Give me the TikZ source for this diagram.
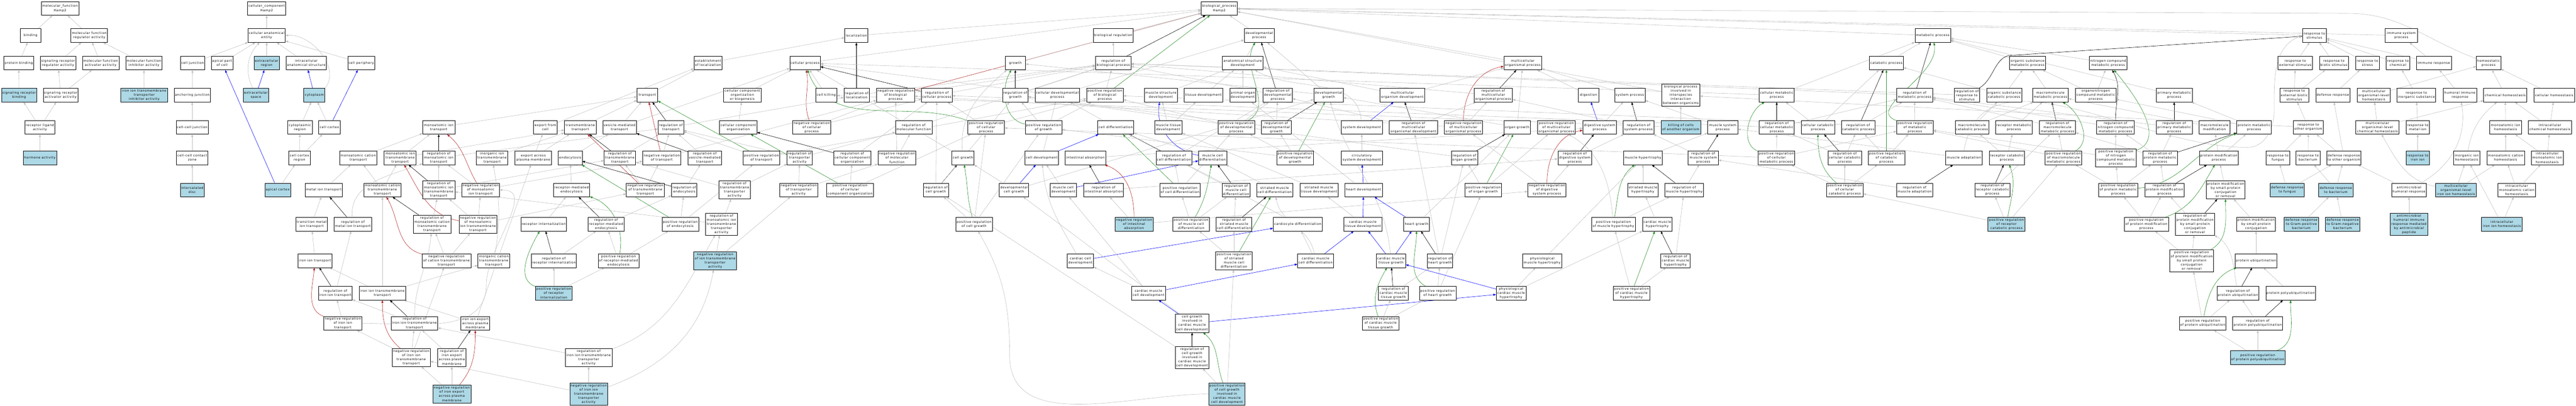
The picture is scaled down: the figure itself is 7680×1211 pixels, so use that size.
\documentclass[tikz,border=0pt]{standalone}
\usepackage{fontspec}
\usetikzlibrary{arrows.meta}
\newfontfamily\labfont[LetterSpace=10]{DejaVu Sans}
\definecolor{lblue}{HTML}{ADD8E6}
\definecolor{egray}{HTML}{C0C0C0}
\definecolor{ered}{HTML}{B22222}
\definecolor{egreen}{HTML}{228B22}
\definecolor{eblue}{HTML}{0000FF}
\pgfdeclarelayer{bgl}
\pgfdeclarelayer{edges}
\pgfsetlayers{bgl,edges,main}
\tikzset{
  bx/.style={draw=black,line width=0.9pt,fill=white,inner sep=0pt,align=center,font=\labfont\fontsize{9.4}{12.4}\selectfont},
  bxb/.style={bx,fill=lblue},
  ebase/.style={line width=0.9pt,-{Triangle[length=8pt,width=6pt]}},
  ga/.style={ebase,draw=egray},
  ka/.style={ebase,draw=black},
  ra/.style={ebase,draw=ered},
  gna/.style={ebase,draw=egreen},
  ba/.style={ebase,draw=eblue}
}
\newcommand\Nd[6]{\node[bx,minimum width=#4pt,minimum height=#5pt] (#1) at (#2,#3) {#6};}
\newcommand\Nb[6]{\node[bxb,minimum width=#4pt,minimum height=#5pt] (#1) at (#2,#3) {#6};}
\newcommand\Egr[2]{\draw[ga] (#1) -- (#2);}
\newcommand\Ebk[2]{\draw[ka] (#1) -- (#2);}
\newcommand\Erd[2]{\draw[ra] (#1) -- (#2);}
\newcommand\Egn[2]{\draw[gna] (#1) -- (#2);}
\newcommand\Ebl[2]{\draw[ba] (#1) -- (#2);}
\begin{document}
\begin{tikzpicture}[x=1pt,y=-1pt]
\begin{pgfonlayer}{bgl}
\fill[white] (0,0) rectangle (7680,1211);
\end{pgfonlayer}
\useasboundingbox (0,0) rectangle (7680,1211);
% ---------------- molecular function
\Nd{n1}{179}{25}{112}{41}{molecular\_function\\Hamp2}
\Nd{n2}{91}{106}{61}{41}{binding}
\Nd{n3}{266}{106}{109}{41}{molecular function\\regulator activity}
\Nd{n4}{56}{188}{89}{41}{protein binding}
\Nd{n5}{173}{188}{105}{41}{signaling receptor\\regulator activity}
\Nd{n6}{300}{188}{109}{41}{molecular function\\activator activity}
\Nd{n7}{429}{188}{109}{41}{molecular function\\inhibitor activity}
\Nb{n8}{57}{284}{105}{41}{signaling receptor\\binding}
\Nd{n9}{181}{284}{104}{41}{signaling receptor\\activator activity}
\Nb{n10}{430}{284}{139}{41}{iron ion transmembrane\\transporter\\inhibitor activity}
\Nd{n11}{119}{380}{89}{41}{receptor ligand\\activity}
\Nb{n12}{119}{471}{100}{41}{hormone activity}
% ---------------- cellular component
\Nd{n13}{574}{188}{73}{41}{cell junction}
\Nd{n14}{662}{188}{64}{41}{apical part\\of cell}
\Nd{n15}{573}{284}{107}{41}{anchoring junction}
\Nd{n16}{573}{380}{96}{41}{cell-cell junction}
\Nd{n17}{573}{471}{93}{41}{cell-cell contact\\zone}
\Nb{n18}{573}{567}{71}{41}{intercalated\\disc}
\Nd{n19}{795}{25}{114}{41}{cellular\_component\\Hamp2}
\Nd{n20}{795}{106}{111}{41}{cellular anatomical\\entity}
\Nb{n21}{795}{188}{75}{41}{extracellular\\region}
\Nd{n22}{913}{188}{120}{41}{intracellular\\anatomical structure}
\Nd{n23}{1077}{188}{80}{41}{cell periphery}
\Nb{n24}{763}{284}{75}{41}{extracellular\\space}
\Nb{n25}{937}{284}{63}{41}{cytoplasm}
\Nd{n26}{894}{380}{73}{41}{cytoplasmic\\region}
\Nd{n27}{982}{380}{64}{41}{cell cortex}
\Nd{n28}{893}{471}{65}{41}{cell cortex\\region}
\Nb{n29}{828}{567}{77}{41}{apical cortex}
% ---------------- transport
\Nd{n30}{1068}{471}{112}{41}{monoatomic cation\\transport}
\Nd{n31}{1193}{471}{95}{41}{monoatomic ion\\transmembrane\\transport}
\Nd{n32}{1308}{380}{96}{41}{monoatomic ion\\transport}
\Nd{n33}{965}{567}{111}{41}{metal ion transport}
\Nd{n34}{1140}{567}{111}{41}{monoatomic cation\\transmembrane\\transport}
\Nd{n35}{929}{669}{94}{41}{transition metal\\ion transport}
\Nd{n36}{1052}{669}{111}{41}{regulation of\\metal ion transport}
\Nd{n37}{1288}{669}{112}{54}{regulation of\\monoatomic cation\\transmembrane\\transport}
\Nd{n38}{1308}{567}{96}{54}{regulation of\\monoatomic ion\\transmembrane\\transport}
\Nd{n39}{1308}{471}{96}{41}{regulation of\\monoatomic ion\\transport}
\Nd{n40}{939}{778}{101}{41}{iron ion transport}
\Nd{n41}{1331}{778}{146}{41}{negative regulation\\of cation transmembrane\\transport}
\Nd{n42}{1000}{875}{100}{41}{regulation of\\iron ion transport}
\Nd{n43}{1140}{875}{139}{41}{iron ion transmembrane\\transport}
\Nd{n44}{1022}{965}{113}{41}{negative regulation\\of iron ion\\transport}
\Nd{n45}{1236}{965}{138}{41}{regulation of\\iron ion transmembrane\\transport}
\Nd{n46}{1226}{1067}{113}{54}{negative regulation\\of iron ion\\transmembrane\\transport}
\Nd{n47}{1626}{380}{71}{41}{export from\\cell}
\Nd{n48}{1730}{380}{95}{41}{transmembrane\\transport}
\Nd{n49}{1847}{380}{100}{41}{vesicle-mediated\\transport}
\Nd{n50}{1930}{284}{62}{41}{transport}
\Nd{n51}{1467}{471}{94}{41}{inorganic ion\\transmembrane\\transport}
\Nd{n52}{1590}{471}{109}{41}{export across\\plasma membrane}
\Nd{n53}{1700}{471}{71}{41}{endocytosis}
\Nd{n54}{1848}{471}{94}{41}{regulation of\\transmembrane\\transport}
\Nd{n55}{1973}{471}{114}{41}{negative regulation\\of transport}
\Nd{n56}{1433}{567}{113}{41}{negative regulation\\of monoatomic\\ion transport}
\Nd{n57}{1704}{567}{108}{41}{receptor-mediated\\endocytosis}
\Nd{n58}{1924}{567}{114}{41}{negative regulation\\of transmembrane\\transport}
\Nd{n59}{1425}{669}{113}{54}{negative regulation\\of monoatomic\\ion transmembrane\\transport}
\Nd{n60}{1621}{669}{135}{41}{receptor internalization}
\Nd{n61}{1807}{669}{107}{41}{regulation of\\receptor-mediated\\endocytosis}
\Nd{n62}{1472}{778}{94}{41}{inorganic cation\\transmembrane\\transport}
\Nd{n63}{1651}{778}{134}{41}{regulation of\\receptor internalization}
\Nd{n64}{1844}{778}{121}{41}{positive regulation\\of receptor-mediated\\endocytosis}
\Nb{n65}{1651}{875}{109}{41}{positive regulation\\of receptor\\internalization}
\Nd{n66}{1417}{965}{86}{41}{iron ion export\\across plasma\\membrane}
\Nd{n67}{1347}{1067}{84}{54}{regulation of\\iron export\\across plasma\\membrane}
\Nd{n68}{1755}{1067}{139}{54}{regulation of\\iron ion transmembrane\\transporter\\activity}
\Nb{n69}{1347}{1176}{114}{54}{negative regulation\\of iron export\\across plasma\\membrane}
\Nb{n70}{1755}{1176}{113}{66}{negative regulation\\of iron ion\\transmembrane\\transporter\\activity}
% ---------------- localization / cellular process
\Nd{n71}{2553}{106}{69}{41}{localization}
\Nd{n72}{2111}{188}{84}{41}{establishment\\of localization}
\Nd{n73}{2400}{188}{91}{41}{cellular process}
\Nd{n74}{2213}{284}{111}{41}{cellular component\\organization\\or biogenesis}
\Nd{n75}{2463}{284}{63}{41}{cell killing}
\Nd{n76}{2554}{284}{76}{41}{regulation of\\localization}
\Nd{n77}{2000}{380}{76}{41}{regulation of\\transport}
\Nd{n78}{2201}{380}{112}{41}{cellular component\\organization}
\Nd{n79}{2420}{380}{114}{41}{negative regulation\\of cellular\\process}
\Nd{n80}{2101}{471}{100}{41}{regulation of\\vesicle-mediated\\transport}
\Nd{n81}{2270}{471}{109}{41}{positive regulation\\of transport}
\Nd{n82}{2384}{471}{75}{41}{regulation of\\transporter\\activity}
\Nd{n83}{2541}{471}{112}{41}{regulation of\\cellular component\\organization}
\Nd{n85}{2040}{567}{75}{41}{regulation of\\endocytosis}
\Nd{n86}{2190}{567}{94}{54}{regulation of\\transmembrane\\transporter\\activity}
\Nd{n87}{2381}{567}{114}{41}{negative regulation\\of transporter\\activity}
\Nd{n88}{2534}{567}{139}{41}{positive regulation\\of cellular\\component organization}
\Nd{n89}{2028}{669}{109}{41}{positive regulation\\of endocytosis}
\Nd{n90}{2151}{669}{95}{66}{regulation of\\monoatomic ion\\transmembrane\\transporter\\activity}
\Nb{n91}{2132}{778}{128}{54}{negative regulation\\of ion transmembrane\\transporter\\activity}
\Nd{n92}{2670}{284}{113}{41}{negative regulation\\of biological\\process}
\Nd{n93}{2793}{284}{91}{41}{regulation of\\cellular process}
\Nd{n94}{3027}{188}{61}{41}{growth}
\Nd{n95}{3027}{284}{75}{41}{regulation of\\growth}
\Nd{n96}{3152}{284}{133}{41}{cellular developmental\\process}
\Nd{n97}{2724}{380}{109}{41}{regulation of\\molecular function}
\Nd{n98}{2940}{380}{109}{41}{positive regulation\\of cellular\\process}
\Nd{n99}{3111}{380}{109}{41}{positive regulation\\of growth}
\Nd{n100}{2674}{471}{113}{41}{negative regulation\\of molecular\\function}
\Nd{n101}{2871}{471}{66}{41}{cell growth}
\Nd{n102}{3106}{471}{100}{41}{cell development}
\Nd{n103}{3236}{471}{120}{41}{intestinal absorption}
\Nd{n104}{2790}{567}{75}{41}{regulation of\\cell growth}
\Nd{n105}{3023}{567}{88}{41}{developmental\\cell growth}
\Nd{n106}{3170}{567}{77}{41}{muscle cell\\development}
\Nd{n107}{2904}{669}{110}{41}{positive regulation\\of cell growth}
\Nd{n108}{3221}{778}{78}{41}{cardiac cell\\development}
% ---------------- biological process / development
\Nd{n109}{3635}{25}{107}{41}{biological\_process\\Hamp2}
\Nd{n110}{3319}{106}{118}{41}{biological regulation}
\Nd{n111}{3754}{106}{89}{41}{developmental\\process}
\Nd{n112}{3319}{188}{105}{41}{regulation of\\biological process}
\Nd{n113}{3705}{188}{121}{41}{anatomical structure\\development}
\Nd{n115}{3294}{284}{109}{41}{positive regulation\\of biological\\process}
\Nd{n116}{3461}{284}{98}{41}{muscle structure\\development}
\Nd{n117}{3588}{284}{115}{41}{tissue development}
\Nd{n118}{3705}{284}{77}{41}{animal organ\\development}
\Nd{n119}{3809}{284}{88}{41}{regulation of\\developmental\\process}
\Nd{n120}{3326}{380}{108}{41}{cell differentiation}
\Nd{n121}{3483}{380}{82}{41}{muscle tissue\\development}
\Nd{n122}{3686}{380}{109}{41}{positive regulation\\of developmental\\process}
\Nd{n123}{3805}{380}{89}{41}{regulation of\\developmental\\growth}
\Nd{n124}{3500}{471}{107}{41}{regulation of\\cell differentiation}
\Nd{n125}{3615}{471}{84}{41}{muscle cell\\differentiation}
\Nd{n126}{3861}{471}{110}{41}{positive regulation\\of developmental\\growth}
\Nd{n127}{3290}{567}{119}{41}{regulation of\\intestinal absorption}
\Nd{n128}{3518}{567}{121}{41}{positive regulation\\of cell differentiation}
\Nd{n129}{3685}{567}{83}{41}{regulation of\\muscle cell\\differentiation}
\Nd{n130}{3800}{567}{107}{41}{striated muscle\\cell differentiation}
\Nb{n132}{3381}{669}{114}{41}{negative regulation\\of intestinal\\absorption}
\Nd{n133}{3551}{669}{109}{41}{positive regulation\\of muscle cell\\differentiation}
\Nd{n134}{3679}{669}{106}{41}{regulation of\\striated muscle\\cell differentiation}
\Nd{n135}{3869}{669}{146}{41}{cardiocyte differentiation}
\Nd{n136}{3679}{778}{109}{54}{positive regulation\\of striated\\muscle cell\\differentiation}
\Nd{n137}{3424}{875}{101}{41}{cardiac muscle\\cell development}
\Nd{n138}{3554}{965}{100}{54}{cell growth\\involved in\\cardiac muscle\\cell development}
\Nd{n139}{3554}{1067}{100}{66}{regulation of\\cell growth\\involved in\\cardiac muscle\\cell development}
\Nb{n140}{3658}{1176}{108}{66}{positive regulation\\of cell growth\\involved in\\cardiac muscle\\cell development}
\Nd{n141}{3961}{284}{88}{41}{developmental\\growth}
\Nd{n142}{4181}{284}{134}{41}{multicellular\\organism development}
\Nd{n143}{4452}{284}{114}{41}{regulation of\\multicellular\\organismal process}
\Nd{n144}{4060}{380}{122}{41}{system development}
\Nd{n145}{4214}{380}{144}{41}{regulation of\\multicellular\\organismal development}
\Nd{n146}{4363}{380}{113}{41}{negative regulation\\of multicellular\\organismal process}
\Nd{n147}{4060}{471}{122}{41}{circulatory\\system development}
\Nd{n148}{4366}{471}{78}{41}{regulation of\\organ growth}
\Nd{n149}{4523}{380}{78}{41}{organ growth}
\Nd{n150}{3932}{567}{114}{41}{striated muscle\\tissue development}
\Nd{n151}{4065}{567}{112}{41}{heart development}
\Nd{n152}{4422}{567}{109}{41}{positive regulation\\of organ growth}
\Nd{n153}{4063}{669}{114}{41}{cardiac muscle\\tissue development}
\Nd{n154}{4223}{669}{76}{41}{heart growth}
\Nd{n155}{3922}{778}{107}{41}{cardiac muscle\\cell differentiation}
\Nd{n156}{4147}{778}{88}{41}{cardiac muscle\\tissue growth}
\Nd{n157}{4293}{778}{75}{41}{regulation of\\heart growth}
\Nd{n158}{4154}{875}{89}{41}{regulation of\\cardiac muscle\\tissue growth}
\Nd{n159}{4286}{875}{109}{41}{positive regulation\\of heart growth}
\Nd{n160}{4505}{875}{89}{41}{physiological\\cardiac muscle\\hypertrophy}
\Nd{n161}{4116}{965}{108}{41}{positive regulation\\of cardiac muscle\\tissue growth}
% ---------------- organismal / system
\Nd{n162}{4540}{188}{113}{41}{multicellular\\organismal process}
\Nd{n163}{4736}{284}{61}{41}{digestion}
\Nd{n164}{4859}{284}{91}{41}{system process}
\Nd{n165}{5011}{284}{114}{66}{biological process\\involved in\\interspecies\\interaction\\between organisms}
\Nd{n166}{4640}{380}{113}{41}{positive regulation\\of multicellular\\organismal process}
\Nd{n167}{4769}{380}{100}{41}{digestive system\\process}
\Nd{n168}{4885}{380}{92}{41}{regulation of\\system process}
\Nb{n169}{5011}{380}{118}{41}{killing of cells\\of another organism}
\Nd{n170}{5136}{380}{90}{41}{muscle system\\process}
\Nd{n171}{4695}{471}{101}{41}{regulation of\\digestive system\\process}
\Nd{n172}{4898}{471}{116}{41}{muscle hypertrophy}
\Nd{n173}{5078}{471}{90}{41}{regulation of\\muscle system\\process}
\Nd{n174}{4612}{567}{114}{41}{negative regulation\\of digestive\\system process}
\Nd{n175}{4898}{567}{91}{41}{striated muscle\\hypertrophy}
\Nd{n176}{5021}{567}{116}{41}{regulation of\\muscle hypertrophy}
\Nd{n177}{4810}{669}{131}{41}{positive regulation\\of muscle hypertrophy}
\Nd{n178}{4941}{669}{88}{41}{cardiac muscle\\hypertrophy}
\Nd{n179}{4598}{778}{117}{41}{physiological\\muscle hypertrophy}
\Nd{n180}{4995}{778}{88}{41}{regulation of\\cardiac muscle\\hypertrophy}
\Nd{n181}{4864}{875}{109}{41}{positive regulation\\of cardiac muscle\\hypertrophy}
% ---------------- metabolism
\Nd{n182}{5762}{106}{106}{41}{metabolic process}
\Nd{n183}{5624}{188}{101}{41}{catabolic process}
\Nd{n184}{5297}{284}{104}{41}{cellular metabolic\\process}
\Nd{n185}{5708}{284}{107}{41}{regulation of\\metabolic process}
\Nd{n186}{5297}{380}{104}{41}{regulation of\\cellular metabolic\\process}
\Nd{n187}{5420}{380}{100}{41}{cellular catabolic\\process}
\Nd{n188}{5540}{380}{101}{41}{regulation of\\catabolic process}
\Nd{n189}{5709}{380}{109}{41}{positive regulation\\of metabolic\\process}
\Nd{n190}{5296}{471}{109}{41}{positive regulation\\of cellular\\metabolic process}
\Nd{n191}{5500}{471}{100}{41}{regulation of\\cellular catabolic\\process}
\Nd{n192}{5624}{471}{109}{41}{positive regulation\\of catabolic\\process}
\Nd{n193}{5500}{567}{110}{41}{positive regulation\\of cellular\\catabolic process}
\Nd{n194}{5708}{567}{107}{41}{regulation of\\muscle adaptation}
\Nd{n195}{6045}{188}{107}{41}{organic substance\\metabolic process}
\Nd{n196}{6285}{188}{112}{41}{nitrogen compound\\metabolic process}
\Nd{n197}{5864}{284}{76}{41}{regulation of\\response to\\stimulus}
\Nd{n198}{5975}{284}{105}{41}{organic substance\\catabolic process}
\Nd{n199}{6113}{284}{107}{41}{macromolecule\\metabolic process}
\Nd{n200}{6248}{284}{121}{41}{organonitrogen\\compound metabolic\\process}
\Nd{n201}{5879}{380}{100}{41}{macromolecule\\catabolic process}
\Nd{n202}{6004}{380}{109}{41}{receptor metabolic\\process}
\Nd{n203}{6134}{380}{107}{41}{regulation of\\macromolecule\\metabolic process}
\Nd{n204}{6307}{380}{112}{41}{regulation of\\nitrogen compound\\metabolic process}
\Nd{n205}{5855}{471}{108}{41}{muscle adaptation}
\Nd{n206}{5983}{471}{105}{41}{receptor catabolic\\process}
\Nd{n207}{6152}{471}{109}{41}{positive regulation\\of macromolecule\\metabolic process}
\Nd{n208}{6308}{471}{121}{54}{positive regulation\\of nitrogen\\compound metabolic\\process}
\Nd{n209}{6440}{471}{104}{41}{regulation of\\protein metabolic\\process}
\Nd{n210}{5940}{567}{104}{41}{regulation of\\receptor catabolic\\process}
\Nd{n211}{6315}{567}{118}{41}{positive regulation\\of protein metabolic\\process}
\Nd{n212}{6453}{567}{117}{41}{regulation of\\protein modification\\process}
\Nb{n213}{5982}{669}{110}{41}{positive regulation\\of receptor\\catabolic process}
\Nd{n214}{6399}{669}{132}{41}{positive regulation\\of protein modification\\process}
% ---------------- response / protein
\Nd{n215}{6900}{106}{71}{41}{response to\\stimulus}
\Nd{n216}{6843}{188}{103}{41}{response to\\external stimulus}
\Nd{n217}{6958}{188}{86}{41}{response to\\biotic stimulus}
\Nd{n218}{7058}{188}{70}{41}{response to\\stress}
\Nd{n219}{6482}{284}{107}{41}{primary metabolic\\process}
\Nd{n220}{6840}{284}{85}{41}{response to\\external biotic\\stimulus}
\Nd{n221}{6955}{284}{102}{41}{defense response}
\Nd{n222}{7077}{284}{99}{41}{multicellular\\organismal-level\\homeostasis}
\Nd{n223}{6482}{380}{107}{41}{regulation of\\primary metabolic\\process}
\Nd{n224}{6602}{380}{91}{41}{macromolecule\\modification}
\Nd{n225}{6720}{380}{103}{41}{protein metabolic\\process}
\Nd{n226}{6882}{380}{89}{41}{response to\\other organism}
\Nd{n227}{7088}{380}{129}{41}{multicellular\\organismal-level\\chemical homeostasis}
\Nd{n228}{6615}{471}{116}{41}{protein modification\\process}
\Nd{n229}{6791}{471}{70}{41}{response to\\fungus}
\Nd{n230}{6881}{471}{71}{41}{response to\\bacterium}
\Nd{n231}{6988}{471}{102}{41}{defense response\\to other organism}
\Nd{n233}{6635}{567}{116}{54}{protein modification\\by small protein\\conjugation\\or removal}
\Nb{n234}{6819}{567}{102}{41}{defense response\\to fungus}
\Nb{n235}{6964}{567}{102}{41}{defense response\\to bacterium}
\Nd{n237}{6544}{669}{117}{66}{regulation of\\protein modification\\by small protein\\conjugation\\or removal}
\Nd{n238}{6726}{669}{116}{41}{protein modification\\by small protein\\conjugation}
\Nb{n239}{6861}{669}{103}{41}{defense response\\to Gram-positive\\bacterium}
\Nb{n240}{6984}{669}{102}{41}{defense response\\to Gram-negative\\bacterium}
\Nd{n241}{6534}{778}{131}{66}{positive regulation\\of protein modification\\by small protein\\conjugation\\or removal}
\Nd{n242}{6726}{778}{124}{41}{protein ubiquitination}
\Nd{n243}{6672}{875}{125}{41}{regulation of\\protein ubiquitination}
\Nd{n244}{6829}{875}{148}{41}{protein polyubiquitination}
\Nd{n245}{6567}{965}{139}{41}{positive regulation\\of protein ubiquitination}
\Nd{n246}{6731}{965}{149}{41}{regulation of\\protein polyubiquitination}
\Nb{n247}{6731}{1067}{162}{41}{positive regulation\\of protein polyubiquitination}
% ---------------- immune / homeostasis
\Nd{n248}{7159}{106}{96}{41}{immune system\\process}
\Nd{n249}{7149}{188}{70}{41}{response to\\chemical}
\Nd{n250}{7256}{188}{105}{41}{immune response}
\Nd{n251}{7419}{188}{73}{41}{homeostatic\\process}
\Nd{n252}{7204}{284}{115}{41}{response to\\inorganic substance}
\Nd{n253}{7334}{284}{100}{41}{humoral immune\\response}
\Nd{n254}{7469}{284}{129}{41}{chemical homeostasis}
\Nd{n255}{7615}{284}{120}{41}{cellular homeostasis}
\Nd{n256}{7208}{380}{70}{41}{response to\\metal ion}
\Nd{n257}{7470}{380}{96}{41}{monoatomic ion\\homeostasis}
\Nd{n258}{7602}{380}{129}{41}{intracellular\\chemical homeostasis}
\Nb{n259}{7208}{471}{70}{41}{response to\\iron ion}
\Nd{n260}{7354}{471}{78}{41}{inorganic ion\\homeostasis}
\Nd{n261}{7470}{471}{112}{41}{monoatomic cation\\homeostasis}
\Nd{n262}{7594}{471}{95}{41}{intracellular\\monoatomic ion\\homeostasis}
\Nd{n263}{7182}{567}{104}{41}{antimicrobial\\humoral response}
\Nb{n264}{7322}{567}{121}{41}{multicellular\\organismal-level\\iron ion homeostasis}
\Nd{n265}{7503}{567}{112}{41}{intracellular\\monoatomic cation\\homeostasis}
\Nb{n266}{7182}{669}{112}{66}{antimicrobial\\humoral immune\\response mediated\\by antimicrobial\\peptide}
\Nb{n267}{7459}{669}{121}{41}{intracellular\\iron ion homeostasis}
% ================= edges
\begin{pgfonlayer}{edges}
% MF
\Egr{n2}{n1}\Egr{n3}{n1}\Egr{n4}{n2}\Egr{n8}{n4}\Egr{n5}{n3}\Egr{n6}{n3}\Egr{n7}{n3}
\Egr{n9}{n5}\Egr{n9}{n6}\Egr{n10}{n7}\Egr{n11}{n8}\Egr{n11}{n9}\Egr{n12}{n11}
% CC
\Egr{n20}{n19}\Egr{n13}{n20}\Egr{n14}{n20}\Egr{n21}{n20}
\draw[ga] (n24) to[bend left=35] (n20);
\Ebl{n24}{n21}\Egr{n22}{n20}\Ebl{n25}{n22}
\draw[ga] (n25.north east) to[out=50,in=5] (n20.east);
\Egr{n23}{n20}\Egr{n26}{n25}\Egr{n27}{n25}\Ebl{n27}{n23}\Egr{n28}{n26}\Egr{n28}{n27}
\Egr{n29}{n28}\Ebl{n29}{n14}\Egr{n15}{n13}\Egr{n16}{n15}\Egr{n17}{n16}\Egr{n18}{n17}
% transport
\Egr{n30}{n32}\Egr{n32}{n50}\Egr{n31}{n32}\Egr{n31}{n48}\Egr{n33}{n30}\Egr{n34}{n30}\Egr{n34}{n31}
\Egr{n35}{n33}\Ebk{n36}{n33}
\draw[ga] (n36) to[out=95,in=-160] (n39);
\Egr{n40}{n35}\Ebk{n42}{n40}\Egr{n42}{n36}
\draw[ra] (n44) to[out=160,in=-95] (n40);
\Egr{n44}{n42}
\draw[ga] (n44.east) to[out=0,in=-90] (1450,850) to[out=90,in=0] (n56.east);
\Egr{n43}{n34}\Egr{n43}{n40}\Egr{n43}{n62}\Ebk{n45}{n43}\Egr{n45}{n42}
\draw[ga] (n45) to[out=90,in=-95] (n37);
\draw[ra] (n46) to[out=140,in=-90] (n43);
\Egr{n46}{n45}\Egr{n46}{n44}\Egr{n46}{n41}
\draw[ra] (n41) to[out=165,in=-60] (n34);
\Egr{n41}{n37}\Egr{n41}{n59}\Ebk{n37}{n34}\Egr{n37}{n38}\Ebk{n38}{n31}\Egr{n38}{n39}\Egr{n38}{n54}
\Ebk{n39}{n32}\Egr{n39}{n77}
\draw[ra] (n56) to[out=120,in=-40] (n32);
\Egr{n56}{n39}\Egr{n56}{n55}
\draw[ra] (n59) to[out=170,in=-60] (n31);
\Egr{n59}{n38}\Egr{n59}{n56}\Egr{n59}{n58}
\Egr{n47}{n72}\Egr{n48}{n50}\Egr{n49}{n50}\Egr{n49}{n73}\Egr{n51}{n48}\Egr{n52}{n47}\Egr{n52}{n48}
\Egr{n53}{n49}\Ebk{n54}{n48}\Egr{n54}{n77}\Erd{n55}{n50}\Egr{n55}{n77}\Egr{n55}{n92}\Egr{n57}{n53}
\Erd{n58}{n48}\Egr{n58}{n54}\Egr{n58}{n55}\Egr{n60}{n57}\Ebk{n61}{n57}\Egr{n61}{n85}
\draw[ga] (n62) to[out=80,in=-80] (n51);
\Ebk{n63}{n60}\Egr{n63}{n61}
\draw[gna] (n64) to[out=80,in=-20] (n57);
\Egr{n64}{n61}\Egr{n64}{n89}
\draw[gna] (n65) to[out=160,in=-120] (n60);
\Egr{n65}{n63}\Egr{n65}{n64}\Egr{n66}{n43}\Egr{n66}{n52}\Ebk{n67}{n66}\Egr{n67}{n45}
\draw[ra] (n69) to[out=50,in=-90] (n66);
\Egr{n69}{n67}\Egr{n69}{n46}\Egr{n68}{n45}
\draw[ga] (n68) to[out=20,in=-120] (n90);
\Egr{n70}{n68}
\draw[ga] (n70) to[out=20,in=-100] (n91);
\Egr{n70}{n46}
% localization / cellular process
\Egr{n72}{n71}\Egr{n50}{n72}\Egr{n71}{n109}\Egr{n73}{n109}\Egr{n74}{n73}\Egr{n75}{n73}\Egr{n78}{n74}
\draw[ka,line width=1.6pt] (n76) -- (n71);
\Egr{n76}{n112}\Ebk{n77}{n50}\Egr{n77}{n76}\Egn{n81}{n50}\Egr{n81}{n77}\Egr{n81}{n115}
\Ebk{n80}{n49}\Egr{n80}{n77}\Ebk{n85}{n53}\Egr{n85}{n80}\Egn{n89}{n53}\Egr{n89}{n85}\Egr{n89}{n81}
\Egr{n82}{n97}\Egr{n82}{n77}\Egr{n86}{n82}\Egr{n86}{n54}\Egr{n90}{n86}\Egr{n90}{n38}
\Egr{n87}{n82}\Egr{n87}{n100}\Egr{n91}{n90}\Egr{n91}{n87}
\draw[ra] (n79) to[out=110,in=-80] (n73);
\Egr{n79}{n93}\Egr{n79}{n92}\Ebk{n83}{n78}\Egr{n83}{n93}\Egn{n88}{n78}\Egr{n88}{n83}\Egr{n88}{n98}
\Ebk{n93}{n73}\Egr{n93}{n112}\Erd{n92}{n109}\Egr{n92}{n112}
\draw[gna] (n98) to[out=160,in=-70] (n73);
\Egr{n98}{n93}\Egr{n98}{n115}\Egn{n115}{n109}\Egr{n115}{n112}\Ebk{n112}{n109}\Egr{n112}{n110}
\Egr{n110}{n109}\Egr{n97}{n112}\Egr{n100}{n97}\Egr{n100}{n92}
% growth
\Egr{n94}{n109}\draw[ka,line width=1.6pt] (n95) -- (n94);
\Egr{n95}{n112}
\draw[gna] (n99) to[out=170,in=-120] (n94);
\Egr{n99}{n95}\Egr{n99}{n115}
\draw[ga] (n101) to[out=95,in=-140] (n94);
\Egr{n101}{n73}
\Ebk{n104}{n101}\Egr{n104}{n95}\Egr{n104}{n93}
\draw[gna] (n107) to[out=105,in=-80] (n101);
\Egr{n107}{n104}\Egr{n107}{n99}\Egr{n107}{n98}
\Egr{n105}{n101}\Ebl{n105}{n102}\Egr{n105}{n141}\Egr{n102}{n96}\Ebl{n102}{n120}\Egr{n96}{n111}\Egr{n96}{n73}
\Egr{n106}{n102}\Ebl{n106}{n125}
\draw[ga] (n108) to[out=120,in=-85] (n102);
\Ebl{n108}{n135}
\Egr{n137}{n108}\Egr{n137}{n106}\Ebl{n137}{n155}\Ebl{n138}{n137}\Egr{n138}{n105}\Ebl{n138}{n160}
\draw[ka,line width=1.6pt] (n139) -- (n138);
\Egr{n139}{n104}
\draw[gna] (n140) to[out=110,in=-40] (n138);
\Egr{n140}{n139}\Egr{n140}{n136}
\draw[ga] (n140.west) to[out=180,in=-90] (3010,1060) to[out=90,in=-60] (n107);
% development
\Egr{n111}{n109}\Egr{n113}{n111}\Egr{n116}{n113}\Egr{n117}{n113}\Egr{n118}{n113}
\Ebk{n119}{n111}\Egr{n119}{n112}\Egr{n120}{n96}\Egr{n121}{n117}\Egr{n121}{n116}
\draw[gna] (n122) to[out=30,in=-120] (n111);
\Egr{n122}{n119}\Egr{n122}{n115}\Ebk{n123}{n141}\Egr{n123}{n119}\Egr{n123}{n95}
\Ebk{n124}{n120}\Egr{n124}{n119}\Egr{n125}{n120}
\draw[ba] (n125) to[out=170,in=-100] (n116);
\Egn{n126}{n141}\Egr{n126}{n123}\Egr{n126}{n122}\Egr{n126}{n99}\Ebk{n127}{n103}\Egr{n127}{n171}
\Egn{n128}{n120}\Egr{n128}{n124}\Egr{n128}{n122}\Ebk{n129}{n125}\Egr{n129}{n124}\Egr{n130}{n125}
\draw[ra] (n132) to[out=90,in=-20] (n103);
\Egr{n132}{n127}\Egr{n132}{n174}
\draw[gna] (n133) to[out=60,in=-100] (n125);
\Egr{n133}{n129}\Egr{n133}{n128}\Ebk{n134}{n130}\Egr{n134}{n129}\Egr{n135}{n120}
\Egn{n136}{n130}\Egr{n136}{n134}\Egr{n136}{n133}\Egr{n103}{n167}
% organism
\Egr{n141}{n94}\Egr{n141}{n111}\Egr{n142}{n113}\Egr{n142}{n162}\Ebl{n144}{n142}
\draw[ga] (n144) to[out=95,in=-30] (n113);
\Egr{n147}{n144}\Ebl{n151}{n147}\Egr{n151}{n118}\Egr{n150}{n121}\Ebl{n153}{n151}\Egr{n153}{n150}
\Ebl{n154}{n151}\Egr{n154}{n149}\Egr{n155}{n135}\Ebl{n155}{n153}
\draw[ga] (n155) to[out=100,in=-80] (n130);
\Ebl{n156}{n153}\Ebl{n156}{n154}
\draw[ga] (n156) to[out=95,in=-75] (n141);
\Ebk{n157}{n154}\Egr{n157}{n148}\Egr{n157}{n145}\Ebk{n158}{n156}\Egr{n158}{n157}
\draw[gna] (n159) to[out=150,in=-90] (n154);
\Egr{n159}{n157}\Egr{n159}{n152}\Ebl{n160}{n156}\Egr{n160}{n179}\Egr{n160}{n178}
\draw[gna] (n161) to[out=110,in=-120] (n156);
\Egr{n161}{n158}\Egr{n161}{n159}\Ebk{n145}{n142}\Egr{n145}{n143}\Egr{n145}{n119}
\draw[ra] (n146) to[out=90,in=190] (n162);
\Egr{n146}{n143}\Egr{n146}{n92}\Ebk{n143}{n162}\Egr{n143}{n112}\Ebk{n148}{n149}\Egr{n148}{n95}
\Egn{n152}{n149}\Egr{n152}{n148}\Egr{n152}{n166}\Egr{n149}{n141}\Egr{n149}{n162}
\Egr{n162}{n109}\Egr{n163}{n162}\Egr{n164}{n162}\Egr{n165}{n109}\Ebl{n167}{n163}\Egr{n167}{n164}
\Ebk{n168}{n164}\Egr{n168}{n143}\Egr{n169}{n165}\Egr{n169}{n75}\Egr{n170}{n164}\Ebk{n171}{n167}
\Egr{n171}{n168}\Egr{n172}{n170}\Ebk{n173}{n170}\Egr{n173}{n168}
\draw[ra] (n174) to[out=90,in=190] (n167);
\Egr{n174}{n171}\Egr{n174}{n146}\Egr{n175}{n172}\Ebk{n176}{n172}\Egr{n176}{n173}
\draw[gna] (n177) to[out=80,in=-140] (n172);
\Egr{n177}{n176}
\draw[ga] (n177) to[out=95,in=-30] (n166);
\Egr{n178}{n175}\Egr{n179}{n172}\Ebk{n180}{n178}\Egr{n180}{n176}\Egn{n181}{n178}\Egr{n181}{n180}\Egr{n181}{n177}
% metabolism
\Egr{n182}{n109}\Egr{n183}{n182}\Egr{n184}{n182}\Egr{n184}{n73}\Ebk{n185}{n182}\Egr{n185}{n112}
\Ebk{n186}{n184}\Egr{n186}{n185}\Egr{n186}{n93}\Egr{n187}{n184}\Egr{n187}{n183}\Ebk{n188}{n183}\Egr{n188}{n185}
\draw[gna] (n189) to[out=160,in=-80] (n182);
\Egr{n189}{n185}\Egr{n189}{n115}
\draw[gna] (n190) to[out=160,in=-150] (n184);
\Egr{n190}{n186}\Egr{n190}{n189}\Egr{n190}{n98}
\Ebk{n191}{n187}\Egr{n191}{n188}\Egr{n191}{n186}\Egn{n192}{n183}\Egr{n192}{n188}\Egr{n192}{n189}
\draw[gna] (n193) to[out=140,in=-90] (n187);
\Egr{n193}{n191}\Egr{n193}{n192}\Egr{n193}{n190}\Ebk{n194}{n205}\Egr{n194}{n173}
\Egr{n195}{n182}\Egr{n196}{n182}
\draw[ka] (n197) to[out=30,in=180] (6000,165) -- (n215);
\Egr{n197}{n112}\Egr{n198}{n195}\Egr{n198}{n183}\Egr{n199}{n195}\Egr{n200}{n196}\Egr{n200}{n195}
\Egr{n201}{n198}\Egr{n201}{n199}\Egr{n202}{n199}\Ebk{n203}{n199}\Egr{n203}{n185}
\draw[ka] (n204) to[out=90,in=-60] (n196);
\Egr{n204}{n185}\Egr{n205}{n170}
\draw[ga] (n205.north) to[out=80,in=180] (6700,440) to[out=0,in=-90] (6780,330) to[out=90,in=200] (n215.west);
\Egr{n206}{n202}\Egr{n206}{n201}
\draw[gna] (n207) to[out=30,in=-30] (n199);
\Egr{n207}{n203}\Egr{n207}{n189}
\draw[gna] (n208) to[out=20,in=-50] (n196);
\Egr{n208}{n204}\Egr{n208}{n189}
\Ebk{n209}{n225}\Egr{n209}{n203}\Egr{n209}{n223}\Egr{n209}{n204}\Ebk{n210}{n206}\Egr{n210}{n203}
\draw[gna] (n211) to[out=5,in=-160] (n225);
\Egr{n211}{n209}\Egr{n211}{n207}\Egr{n211}{n208}\Ebk{n212}{n228}\Egr{n212}{n209}
\draw[gna] (n213) to[out=80,in=-70] (n206);
\Egr{n213}{n210}\Egr{n213}{n207}\Egr{n213}{n193}
\draw[gna] (n214) to[out=20,in=-120] (n228);
\Egr{n214}{n212}\Egr{n214}{n211}
% response / protein
\Egr{n215}{n109}\Egr{n216}{n215}\Egr{n217}{n215}\Egr{n218}{n215}\Egr{n219}{n182}\Egr{n220}{n216}\Egr{n220}{n217}
\Egr{n221}{n218}\Egr{n222}{n251}\Ebk{n223}{n219}\Egr{n223}{n185}\Egr{n224}{n199}\Egr{n225}{n219}\Egr{n225}{n200}
\Egr{n226}{n220}\Egr{n226}{n165}\Egr{n227}{n222}\Egr{n227}{n254}\Egr{n228}{n224}\Egr{n228}{n225}
\Egr{n229}{n226}\Egr{n230}{n226}\Egr{n231}{n226}\Egr{n231}{n221}\Egr{n233}{n228}\Egr{n234}{n229}\Egr{n234}{n231}
\Egr{n235}{n230}\Egr{n235}{n231}\Ebk{n237}{n233}\Egr{n237}{n212}\Egr{n238}{n233}\Egr{n239}{n235}\Egr{n240}{n235}
\draw[gna] (n241) to[out=30,in=-90] (n233);
\Egr{n241}{n237}\Egr{n241}{n214}\Egr{n242}{n238}\Ebk{n243}{n242}
\draw[ga] (n243) to[out=100,in=-30] (n237);
\Egr{n244}{n242}
\draw[gna] (n245) to[out=80,in=-160] (n242);
\Egr{n245}{n243}\Egr{n245}{n241}\Ebk{n246}{n244}\Egr{n246}{n243}
\draw[gna] (n247) to[out=20,in=-90] (n244);
\Egr{n247}{n246}\Egr{n247}{n245}
% immune / homeostasis
\Egr{n248}{n109}\Egr{n249}{n215}\Egr{n250}{n248}\Egr{n250}{n215}
\draw[ga] (n251) to[out=160,in=0] (7000,40) -- (n109);
\Egr{n252}{n249}\Egr{n253}{n250}\Egr{n254}{n251}\Egr{n255}{n251}\Egr{n256}{n252}\Egr{n257}{n254}
\Egr{n258}{n254}\Egr{n258}{n255}\Egr{n259}{n256}
\draw[ga] (n260) to[out=80,in=-140] (n254);
\Egr{n261}{n257}\Egr{n262}{n257}\Egr{n262}{n258}\Egr{n263}{n231}
\draw[ga] (n263) to[out=30,in=-80] (n253);
\Egr{n264}{n260}\Egr{n264}{n261}
\draw[ga] (n264) to[out=170,in=-60] (n227);
\Egr{n265}{n261}\Egr{n265}{n262}\Egr{n266}{n263}\Egr{n267}{n265}\Egr{n267}{n260}
\end{pgfonlayer}
\end{tikzpicture}
\end{document}
